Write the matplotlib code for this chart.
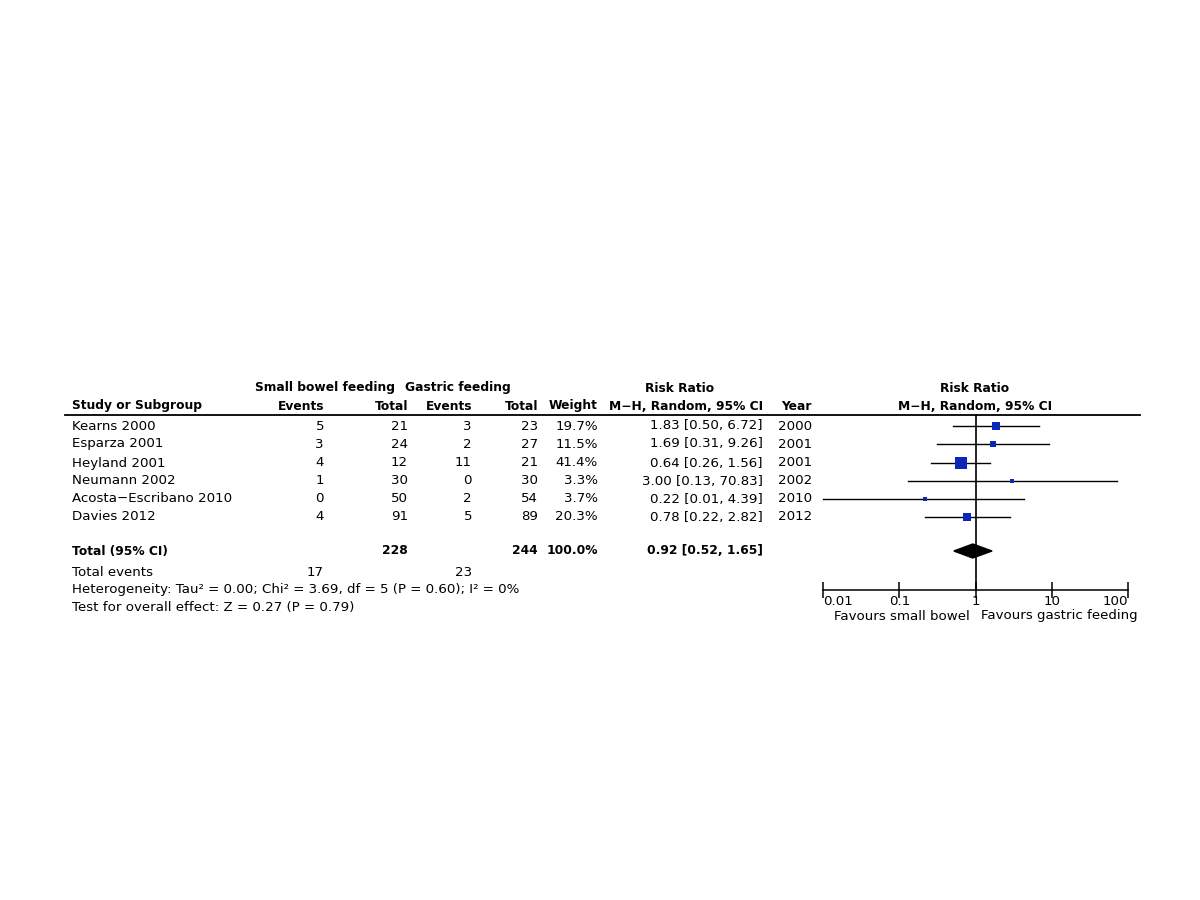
import numpy as np
import matplotlib.pyplot as plt
from matplotlib.ticker import FixedLocator, FixedFormatter

# ==========================
# Dati
# ==========================
studies = ["Kearns 2000", "Esparza 2001", "Heyland 2001", "Neumann 2002",
           "Acosta\u2212Escribano 2010", "Davies 2012"]
sb_events = [5, 3, 4, 1, 0, 4]
sb_total = [21, 24, 12, 30, 50, 91]
gf_events = [3, 2, 11, 0, 2, 5]
gf_total = [23, 27, 21, 30, 54, 89]
weights = [19.7, 11.5, 41.4, 3.3, 3.7, 20.3]
rr = [1.83, 1.69, 0.64, 3.00, 0.22, 0.78]
ci_lo = [0.50, 0.31, 0.26, 0.13, 0.01, 0.22]
ci_hi = [6.72, 9.26, 1.56, 70.83, 4.39, 2.82]
years = [2000, 2001, 2001, 2002, 2010, 2012]

total_sb, total_gf = 228, 244
total_weight = 100.0
events_sb, events_gf = 17, 23
pooled = (0.92, 0.52, 1.65)
axis_ticks = [0.01, 0.1, 1, 10, 100]
axis_labels = ["0.01", "0.1", "1", "10", "100"]

# ==========================
# Layout (pixel)
# ==========================
row_y = [426, 444, 463, 481, 499, 517]
y_total = 551
FS = 9.6
FSB = 8.8
blue = "#0b27b8"

fig = plt.figure(figsize=(12, 9), dpi=100)
ax0 = fig.add_axes([0, 0, 1, 1])
ax0.set_xlim(0, 1200)
ax0.set_ylim(900, 0)
ax0.axis("off")

def txt(x, y, s, ha="right", bold=False):
    ax0.text(x, y, s, ha=ha, va="center", fontsize=FSB if bold else FS,
             fontweight="bold" if bold else "normal", color="black")

# intestazioni
txt(325, 388, "Small bowel feeding", ha="center", bold=True)
txt(458, 388, "Gastric feeding", ha="center", bold=True)
txt(680, 388, "Risk Ratio", ha="center", bold=True)
txt(975, 388, "Risk Ratio", ha="center", bold=True)
txt(72, 406, "Study or Subgroup", ha="left", bold=True)
txt(324, 406, "Events", bold=True)
txt(408, 406, "Total", bold=True)
txt(472, 406, "Events", bold=True)
txt(538, 406, "Total", bold=True)
txt(598, 406, "Weight", bold=True)
txt(763, 406, "M\u2212H, Random, 95% CI", bold=True)
txt(812, 406, "Year", bold=True)
txt(975, 406, "M\u2212H, Random, 95% CI", ha="center", bold=True)
ax0.plot([65, 1140], [415, 415], color="black", lw=1.3)

# righe studi
for i, y in enumerate(row_y):
    txt(72, y, studies[i], ha="left")
    txt(324, y, str(sb_events[i]))
    txt(408, y, str(sb_total[i]))
    txt(472, y, str(gf_events[i]))
    txt(538, y, str(gf_total[i]))
    txt(598, y, f"{weights[i]:.1f}%")
    txt(763, y, f"{rr[i]:.2f} [{ci_lo[i]:.2f}, {ci_hi[i]:.2f}]")
    txt(812, y, str(years[i]))

# totali
txt(72, y_total, "Total (95% CI)", ha="left", bold=True)
txt(408, y_total, str(total_sb), bold=True)
txt(538, y_total, str(total_gf), bold=True)
txt(598, y_total, f"{total_weight:.1f}%", bold=True)
txt(763, y_total, f"{pooled[0]:.2f} [{pooled[1]:.2f}, {pooled[2]:.2f}]", bold=True)
txt(72, 572, "Total events", ha="left")
txt(324, 572, str(events_sb))
txt(472, 572, str(events_gf))
txt(72, 590, "Heterogeneity: Tau\u00b2 = 0.00; Chi\u00b2 = 3.69, df = 5 (P = 0.60); I\u00b2 = 0%", ha="left")
txt(72, 608, "Test for overall effect: Z = 0.27 (P = 0.79)", ha="left")

# ==========================
# Forest plot
# ==========================
ax = fig.add_axes([823 / 1200, 0, 305 / 1200, 1])
ax.set_xscale("log")
ax.set_xlim(0.01, 100)
ax.set_ylim(900, 0)
ax.patch.set_alpha(0)
for s in ["top", "left", "right"]:
    ax.spines[s].set_visible(False)
ax.spines["bottom"].set_position(("data", 590))
ax.spines["bottom"].set_linewidth(1.1)
ax.set_yticks([])
ax.xaxis.set_major_locator(FixedLocator(axis_ticks))
ax.xaxis.set_major_formatter(FixedFormatter(axis_labels))
ax.xaxis.set_minor_locator(FixedLocator([]))
ax.tick_params(axis="x", direction="inout", length=11, width=1.1,
               labelsize=FS, pad=-2)
labs = ax.get_xticklabels()
labs[0].set_horizontalalignment("left")
labs[-1].set_horizontalalignment("right")

ax.plot([1, 1], [415, 590], color="black", lw=1.2)

for i, y in enumerate(row_y):
    ax.plot([ci_lo[i], ci_hi[i]], [y, y], color="black", lw=1.0, clip_on=False)
    # lato del quadrato (px) in base al peso
    side = 2.5 + weights[i] * 0.24
    ax.plot(rr[i], y, marker="s", color=blue, markersize=side * 0.72,
            markeredgewidth=0, clip_on=False, zorder=3)

# diamante
dx = [pooled[1], pooled[0], pooled[2], pooled[0]]
dy = [y_total, y_total - 7, y_total, y_total + 7]
ax.fill(dx, dy, color="black", clip_on=False)

ax0.text(970, 616, "Favours small bowel", ha="right", va="center", fontsize=FS)
ax0.text(981, 616, "Favours gastric feeding", ha="left", va="center", fontsize=FS)

fig.savefig("out.png", dpi=100)
